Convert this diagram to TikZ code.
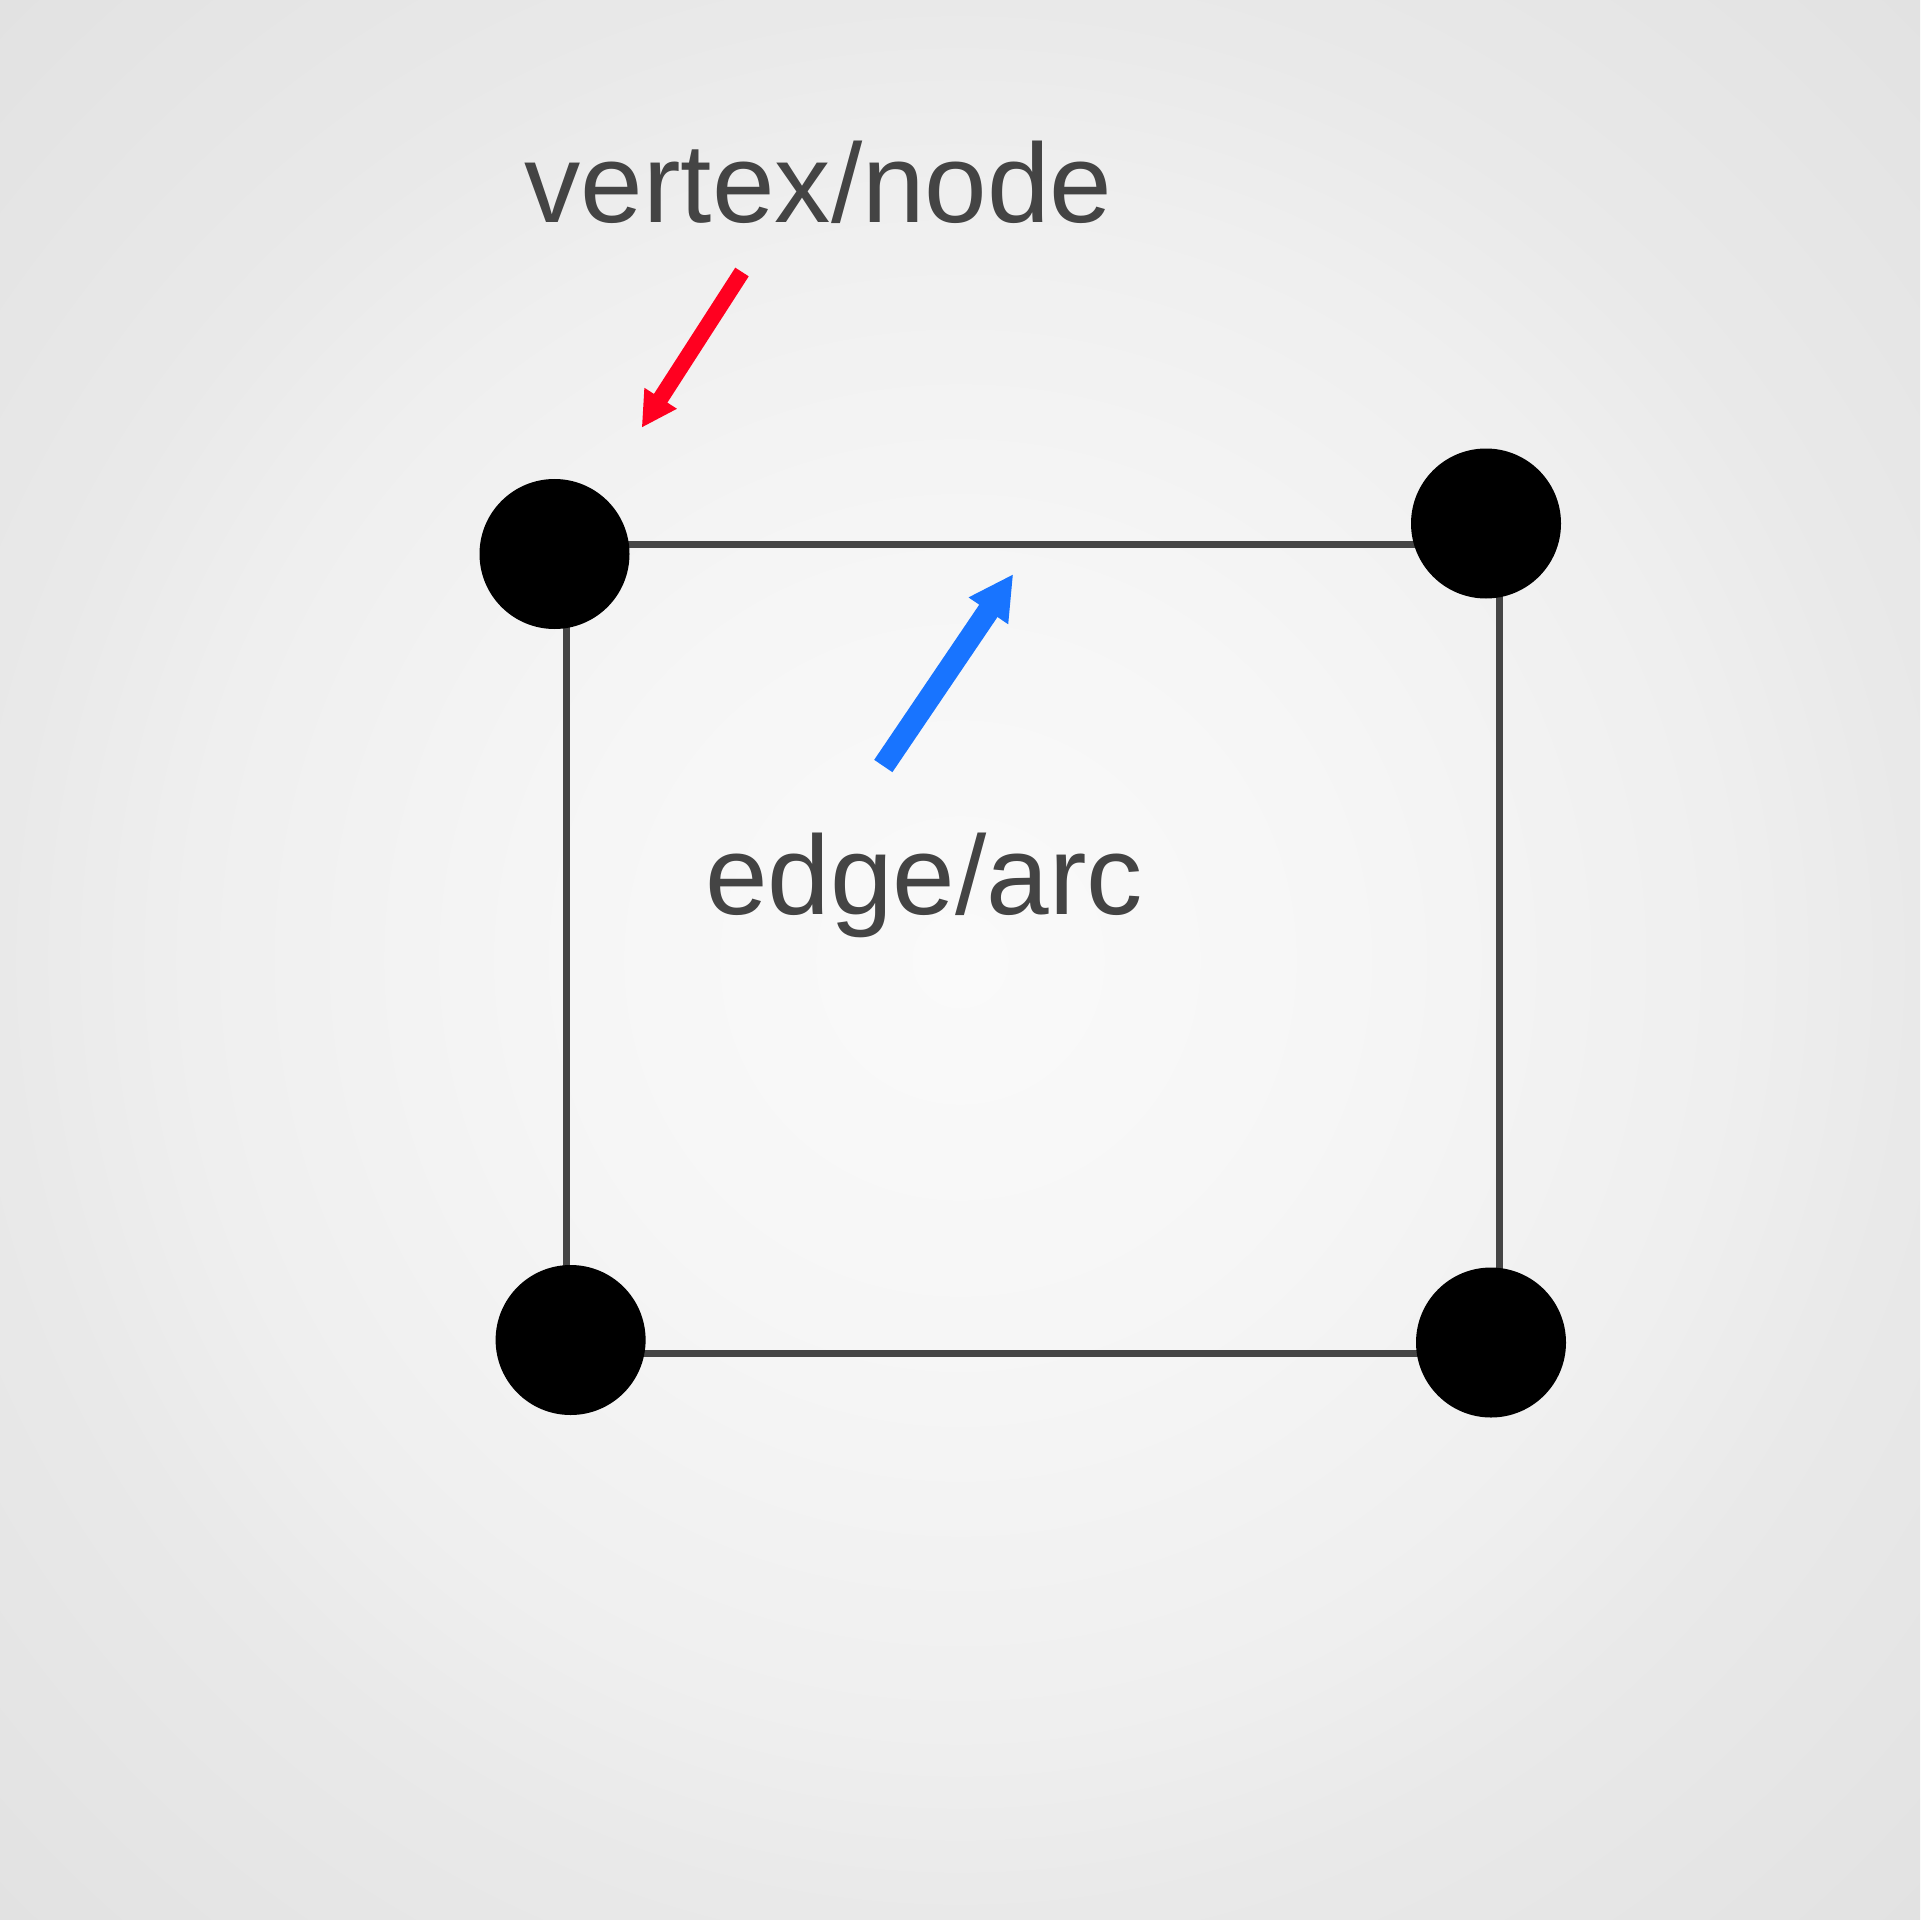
\documentclass[tikz,border=0pt]{standalone}
\usepackage{fontspec}
\setmainfont{Liberation Sans}
\usetikzlibrary{arrows.meta,backgrounds}
\definecolor{txt}{HTML}{444444}
\definecolor{edgecol}{HTML}{454545}
\definecolor{redarrow}{HTML}{FF0020}
\definecolor{bluearrow}{HTML}{1874FF}
\definecolor{bga}{HTML}{FAFAFA}
\definecolor{bgb}{HTML}{F6F6F6}
\definecolor{bgc}{HTML}{EFEFEF}
\definecolor{bgd}{HTML}{E9E9E9}
\definecolor{bge}{HTML}{E2E2E2}
\pgfdeclareradialshading{bgshade}{\pgfpoint{0bp}{0bp}}{color(0bp)=(bga); color(10bp)=(bgb); color(20bp)=(bgc); color(25bp)=(bgd); color(35.4bp)=(bge); color(50bp)=(bge)}
\begin{document}
\begin{tikzpicture}[
  vertex/.style={circle,fill=black,minimum size=1.5cm,inner sep=0pt},
  edgeline/.style={draw=edgecol,line width=0.07cm},
  label/.style={text=txt,font=\fontsize{32pt}{38pt}\selectfont,inner sep=0pt,anchor=base},
  redarr/.style={draw=redarrow,line width=0.16cm,-{Triangle[length=0.35cm,width=0.36cm]}},
  bluearr/.style={draw=bluearrow,line width=0.22cm,-{Triangle[length=0.445cm,width=0.444cm]}}
]
\useasboundingbox (0,0) rectangle (19.2,-19.2);
\begin{scope}[on background layer]
\shade[shading=bgshade] (0,0) rectangle (19.2,-19.2);
\end{scope}

\node[vertex] (TL) at (5.545,-5.54) {};
\node[vertex] (TR) at (14.86,-5.235) {};
\node[vertex] (BL) at (5.706,-13.40) {};
\node[vertex] (BR) at (14.91,-13.425) {};

\coordinate (topy) at (0,-5.445);
\coordinate (boty) at (0,-13.53);
\coordinate (leftx) at (5.665,0);
\coordinate (rightx) at (14.99,0);

\begin{scope}[on background layer]
\draw[edgeline] (TL.center |- topy) -- (TR.center |- topy);
\draw[edgeline] (BL.center |- boty) -- (BR.center |- boty);
\draw[edgeline] (leftx |- TL.center) -- (leftx |- BL.center);
\draw[edgeline] (rightx |- TR.center) -- (rightx |- BR.center);
\end{scope}

\node[label] (vlabel) at (8.186,-2.229) {vertex/node};
\node[label] (elabel) at (9.24,-9.147) {edge/arc};

\coordinate (r1) at (7.42,-2.72);
\coordinate (r2) at (6.417,-4.277);
\coordinate (b1) at (8.833,-7.66);
\coordinate (b2) at (10.133,-5.74);
\draw[redarr] (r1) -- (r2);
\draw[bluearr] (b1) -- (b2);
\end{tikzpicture}
\end{document}
